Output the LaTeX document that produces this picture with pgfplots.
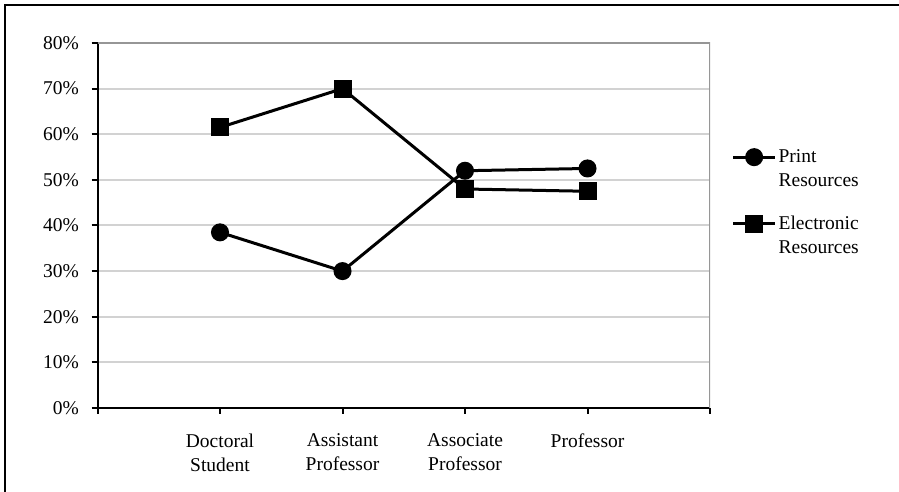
\documentclass[border=0pt]{standalone}
\usepackage{pgfplots}
\pgfplotsset{compat=1.18}
\usepackage{fontspec}
\setmainfont{Liberation Serif}

\definecolor{gridgray}{RGB}{210,210,210}
\definecolor{framegray}{RGB}{150,150,150}

\begin{document}
\begin{tikzpicture}[x=1bp,y=1bp]
\useasboundingbox (0,0) rectangle (899,492);
% outer chart frame (cropped on the right and bottom)
\draw[line width=1.2bp] (5,0) -- (5,487) -- (899,487);

\begin{axis}[
  at={(97.5bp,84bp)}, anchor=south west,
  scale only axis, width=612.5bp, height=365bp,
  font=\fontsize{19.5bp}{24bp}\selectfont,
  xmin=0, xmax=5, ymin=0, ymax=80,
  axis x line*=bottom, axis y line*=left,
  axis line style={black, line width=2bp},
  xtick={0,1,2,3,4,5},
  xticklabels={,{Doctoral\\Student},{Assistant\\Professor},{Associate\\Professor},{Professor},},
  xticklabel style={align=center, anchor=north, yshift=-16bp},
  ytick={0,10,...,80},
  yticklabels={0\%,10\%,20\%,30\%,40\%,50\%,60\%,70\%,80\%},
  yticklabel style={anchor=east, xshift=-9bp},
  tick align=outside, major tick length=6bp,
  tick style={black, line width=2bp},
  ymajorgrids, major grid style={gridgray, line width=2bp},
  legend style={at={(1.035,0.713)}, anchor=north west, draw=none, fill=none,
    inner sep=0pt, row sep=24bp, nodes={align=left, inner sep=2bp},
    font=\fontsize{19.5bp}{24bp}\selectfont},
  legend cell align=left,
  legend image code/.code={
    \draw[mark repeat=2,mark phase=2,#1] plot coordinates {(0bp,12bp) (21bp,12bp) (42bp,12bp)};},
]
\draw[framegray, line width=2bp] (rel axis cs:0,1) -- (rel axis cs:1,1) -- (rel axis cs:1,0);

\addplot[black, line width=3bp, mark=*, mark size=7.5bp, mark options={solid}]
  coordinates {(1,38.5) (2,30) (3,52) (4,52.5)};
\addlegendentry{Print\\Resources}

\addplot[black, line width=3bp, mark=square*, mark size=7.5bp, mark options={solid}]
  coordinates {(1,61.5) (2,70) (3,48) (4,47.5)};
\addlegendentry{Electronic\\Resources}
\end{axis}
\end{tikzpicture}
\end{document}
